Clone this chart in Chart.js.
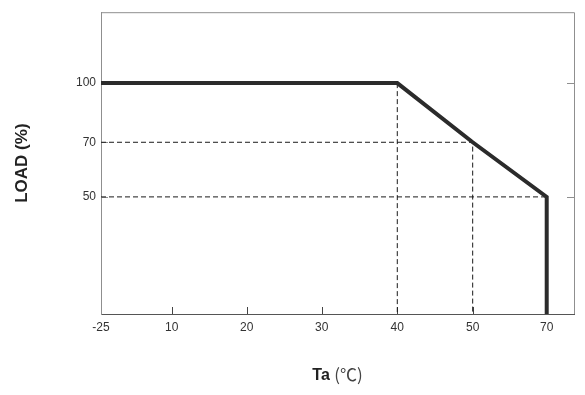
<!DOCTYPE html>
<html lang="en">

<head>
    <meta charset="UTF-8" />
    <title>Derating Curve</title>
    <script src="https://cdn.jsdelivr.net/npm/chart.js"></script>
    <style>
        body { margin: 0; background: #fff; }
        canvas { display: block; }
    </style>
</head>

<body>
    <canvas id="deratingChart" width="585" height="395"></canvas>

    <script>
        // ambient temperature ticks (deg C) and load ticks (%)
        const tempTicks = [-25, 10, 20, 30, 40, 50, 70];
        const loadTicks = [50, 70, 100];

        // derating curve
        const curveTemp = [-25, 40, 50, 70, 70];
        const curveLoad = [100, 100, 70, 50, 0];

        // dashed guide lines
        const guide40Temp = [40, 40];
        const guide40Load = [100, 0];
        const guide70Temp = [-25, 50, 50];
        const guide70Load = [70, 70, 0];
        const guide50Temp = [-25, 70];
        const guide50Load = [50, 50];

        // the printed chart is not drawn to a linear scale, so each axis
        // gets its own value -> fraction stops
        const axisStops = {
            x: [[-25, 0], [10, 0.1495], [20, 0.308], [30, 0.4666], [40, 0.6264], [50, 0.7858], [70, 0.9423], [80, 1]],
            y: [[0, 0], [50, 0.388], [70, 0.569], [100, 0.765], [130, 1]],
        };

        function toFraction(stops, v) {
            for (let i = 1; i < stops.length; i++) {
                const [v0, f0] = stops[i - 1];
                const [v1, f1] = stops[i];
                if (v <= v1 || i === stops.length - 1) {
                    return f0 + (v - v0) / (v1 - v0) * (f1 - f0);
                }
            }
            return 0;
        }

        function fromFraction(stops, f) {
            for (let i = 1; i < stops.length; i++) {
                const [v0, f0] = stops[i - 1];
                const [v1, f1] = stops[i];
                if (f <= f1 || i === stops.length - 1) {
                    return v0 + (f - f0) / (f1 - f0) * (v1 - v0);
                }
            }
            return 0;
        }

        class SteppedLinearScale extends Chart.LinearScale {
            getPixelForValue(value) {
                if (value === null || isNaN(value)) return NaN;
                return this.getPixelForDecimal(toFraction(axisStops[this.id], value));
            }
            getValueForPixel(pixel) {
                return fromFraction(axisStops[this.id], this.getDecimalForPixel(pixel));
            }
        }
        SteppedLinearScale.id = "stepped";
        SteppedLinearScale.defaults = Chart.LinearScale.defaults;
        Chart.register(SteppedLinearScale);

        const pts = (xs, ys) => xs.map((x, i) => ({ x: x, y: ys[i] }));

        const guideStyle = {
            borderColor: "#1a1a1a",
            borderWidth: 1,
            borderDash: [5, 3],
            pointRadius: 0,
        };

        // frame top/right + inward tick marks
        const framePlugin = {
            id: "frame",
            beforeDatasetsDraw(chart) {
                const { ctx, chartArea: a, scales } = chart;
                ctx.save();
                ctx.lineWidth = 1;
                ctx.strokeStyle = "#8f8f8f";
                ctx.beginPath();
                ctx.moveTo(a.left, a.top + 0.5);
                ctx.lineTo(a.right + 0.5, a.top + 0.5);
                ctx.lineTo(a.right + 0.5, a.bottom);
                ctx.stroke();

                ctx.strokeStyle = "#444";
                ctx.beginPath();
                tempTicks.slice(1).forEach((t) => {
                    const px = Math.round(scales.x.getPixelForValue(t)) + 0.5;
                    ctx.moveTo(px, a.bottom);
                    ctx.lineTo(px, a.bottom - 7);
                });
                ctx.stroke();

                ctx.strokeStyle = "#8f8f8f";
                ctx.beginPath();
                loadTicks.forEach((l) => {
                    const py = Math.round(scales.y.getPixelForValue(l)) + 0.5;
                    ctx.moveTo(a.left, py);
                    ctx.lineTo(a.left + 7, py);
                    if (l !== 70) {
                        ctx.moveTo(a.right, py);
                        ctx.lineTo(a.right - 7, py);
                    }
                });
                ctx.stroke();
                ctx.restore();
            },
            afterDraw(chart) {
                // x title: "Ta" bold, "(℃)" regular
                const { ctx, chartArea: a } = chart;
                const boldPart = "Ta ";
                const normalPart = "(℃)";
                ctx.save();
                ctx.fillStyle = "#222";
                ctx.textBaseline = "middle";
                ctx.font = "bold 16px 'Liberation Sans', Arial, sans-serif";
                const w1 = ctx.measureText(boldPart).width;
                ctx.font = "17px 'Noto Sans CJK SC', 'Liberation Sans', sans-serif";
                const w2 = ctx.measureText(normalPart).width;
                const x0 = (a.left + a.right) / 2 - (w1 + w2) / 2;
                ctx.font = "bold 16px 'Liberation Sans', Arial, sans-serif";
                ctx.fillText(boldPart, x0, 376);
                ctx.fillStyle = "#444";
                ctx.font = "17px 'Noto Sans CJK SC', 'Liberation Sans', sans-serif";
                ctx.fillText(normalPart, x0 + w1, 375);
                ctx.restore();
            },
        };

        const ctxDerating = document.getElementById("deratingChart").getContext("2d");
        const deratingChart = new Chart(ctxDerating, {
            type: "line",
            data: {
                datasets: [
                    {
                        label: "Load",
                        data: pts(curveTemp, curveLoad),
                        borderColor: "#2b2b2b",
                        borderWidth: 4,
                        pointRadius: 0,
                        tension: 0,
                        order: 0,
                    },
                    Object.assign({ label: "40", data: pts(guide40Temp, guide40Load), order: 1 }, guideStyle),
                    Object.assign({ label: "70", data: pts(guide70Temp, guide70Load), order: 1 }, guideStyle),
                    Object.assign({ label: "50", data: pts(guide50Temp, guide50Load), order: 1 }, guideStyle),
                ],
            },
            options: {
                responsive: false,
                animation: false,
                layout: { padding: { left: 0, top: 10, right: 11, bottom: 0 } },
                plugins: {
                    legend: { display: false },
                    tooltip: { enabled: false },
                },
                scales: {
                    x: {
                        type: "stepped",
                        min: -25,
                        max: 80,
                        afterBuildTicks: (s) => { s.ticks = tempTicks.map((v) => ({ value: v })); },
                        afterFit: (s) => { s.height = 81; },
                        grid: { display: false, drawTicks: false },
                        border: { display: true, color: "#555", width: 1 },
                        ticks: {
                            padding: 6,
                            color: "#333",
                            autoSkip: false,
                            maxRotation: 0,
                            font: { family: "'Liberation Sans', Arial, sans-serif", size: 12 },
                        },
                    },
                    y: {
                        type: "stepped",
                        min: 0,
                        max: 130,
                        afterBuildTicks: (s) => { s.ticks = loadTicks.map((v) => ({ value: v })); },
                        afterFit: (s) => { s.width = 101; },
                        grid: { display: false, drawTicks: false },
                        border: { display: true, color: "#8f8f8f", width: 1 },
                        ticks: {
                            padding: 5,
                            color: "#333",
                            font: { family: "'Liberation Sans', Arial, sans-serif", size: 12 },
                        },
                        title: {
                            display: true,
                            text: "LOAD (%)",
                            color: "#222",
                            font: { family: "'Liberation Sans', Arial, sans-serif", size: 17, weight: "bold" },
                            padding: { top: 12 },
                        },
                    },
                },
            },
            plugins: [framePlugin],
        });
    </script>
</body>

</html>
